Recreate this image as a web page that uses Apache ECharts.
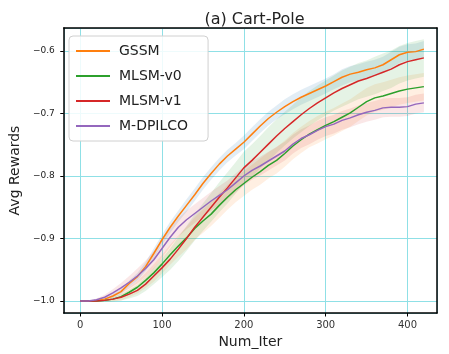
<!DOCTYPE html>
<html>
<head>
<meta charset="utf-8">
<script src="https://cdn.jsdelivr.net/npm/echarts@6/dist/echarts.min.js"></script>
<style>html,body{margin:0;padding:0;background:#fff}#c{width:449px;height:354px}</style>
</head>
<body>
<div id="c"></div>
<script>
const iters = [0,10,20,30,40,50,60,70,80,90,100,110,120,130,140,150,160,170,180,190,200,210,220,230,240,250,260,270,280,290,300,310,320,330,340,350,360,370,380,390,400,410,420];

const gssm = [-1.000,-1.000,-0.999,-0.997,-0.992,-0.985,-0.972,-0.961,-0.945,-0.924,-0.902,-0.882,-0.864,-0.847,-0.830,-0.812,-0.796,-0.781,-0.768,-0.757,-0.746,-0.733,-0.720,-0.708,-0.698,-0.689,-0.681,-0.674,-0.668,-0.662,-0.656,-0.649,-0.642,-0.637,-0.634,-0.630,-0.627,-0.622,-0.614,-0.606,-0.602,-0.601,-0.597];
const mlsmV0 = [-1.000,-1.000,-1.000,-0.999,-0.997,-0.993,-0.986,-0.978,-0.967,-0.955,-0.941,-0.926,-0.912,-0.899,-0.884,-0.872,-0.861,-0.847,-0.834,-0.822,-0.812,-0.802,-0.793,-0.783,-0.775,-0.764,-0.752,-0.742,-0.733,-0.726,-0.719,-0.713,-0.706,-0.699,-0.690,-0.681,-0.675,-0.672,-0.668,-0.664,-0.661,-0.659,-0.657];
const mlsmV1 = [-1.000,-1.000,-1.000,-0.999,-0.997,-0.994,-0.989,-0.983,-0.973,-0.960,-0.947,-0.933,-0.917,-0.900,-0.882,-0.866,-0.850,-0.834,-0.819,-0.803,-0.787,-0.775,-0.762,-0.749,-0.736,-0.724,-0.713,-0.702,-0.692,-0.683,-0.675,-0.667,-0.660,-0.654,-0.648,-0.644,-0.639,-0.634,-0.629,-0.622,-0.617,-0.614,-0.611];
const mdpilco = [-1.000,-1.000,-0.998,-0.994,-0.987,-0.979,-0.970,-0.960,-0.948,-0.934,-0.916,-0.898,-0.882,-0.870,-0.860,-0.850,-0.840,-0.831,-0.822,-0.811,-0.800,-0.791,-0.784,-0.776,-0.768,-0.760,-0.749,-0.740,-0.734,-0.727,-0.721,-0.717,-0.711,-0.707,-0.702,-0.698,-0.695,-0.691,-0.690,-0.690,-0.689,-0.685,-0.683];

const stdGssm = [0,0,0.001,0.002,0.003,0.004,0.005,0.006,0.007,0.008,0.008,0.009,0.009,0.01,0.01,0.01,0.01,0.01,0.01,0.01,0.011,0.011,0.011,0.011,0.011,0.012,0.012,0.012,0.012,0.012,0.012,0.012,0.013,0.013,0.013,0.013,0.013,0.013,0.013,0.013,0.013,0.013,0.013];
const stdV0 = [0,0,0.001,0.002,0.004,0.006,0.008,0.01,0.012,0.014,0.015,0.016,0.017,0.018,0.018,0.019,0.019,0.02,0.02,0.02,0.02,0.02,0.021,0.021,0.021,0.021,0.021,0.021,0.021,0.022,0.022,0.022,0.022,0.022,0.022,0.022,0.022,0.022,0.022,0.022,0.022,0.022,0.022];
const stdV1 = [0,0,0.001,0.002,0.003,0.005,0.007,0.009,0.011,0.013,0.015,0.017,0.019,0.02,0.021,0.022,0.023,0.024,0.025,0.025,0.026,0.026,0.026,0.027,0.027,0.027,0.027,0.028,0.028,0.028,0.028,0.028,0.029,0.029,0.029,0.029,0.03,0.03,0.03,0.03,0.03,0.03,0.03];
const stdMd = [0,0,0.002,0.004,0.006,0.008,0.01,0.012,0.013,0.014,0.015,0.015,0.015,0.015,0.015,0.015,0.015,0.015,0.015,0.015,0.015,0.015,0.015,0.015,0.015,0.015,0.015,0.015,0.015,0.015,0.015,0.015,0.015,0.015,0.015,0.015,0.015,0.015,0.015,0.015,0.015,0.015,0.015];

const names = ['GSSM','MLSM-v0','MLSM-v1','M-DPILCO'];
const means = [gssm, mlsmV0, mlsmV1, mdpilco];
const stds = [stdGssm, stdV0, stdV1, stdMd];
const lineColors = ['#ff7f0e','#2ca02c','#d62728','#9467bd'];
const fillColors = ['rgba(31,119,180,0.13)','rgba(255,127,14,0.12)','rgba(44,160,44,0.12)','rgba(214,39,40,0.11)'];

const FONT = 'DejaVu Sans';
const series = [];
means.forEach((m, i) => {
  const bandData = iters.map((x, k) => [x, m[k] - stds[i][k], m[k] + stds[i][k]]);
  series.push({
    type: 'custom', name: 'band_' + i, silent: true, z: 1, clip: true,
    data: bandData,
    encode: { x: 0, y: [1, 2] },
    renderItem: (params, api) => {
      if (params.dataIndex !== 0) return null;
      const up = [], lo = [];
      for (let k = 0; k < bandData.length; k++) {
        up.push(api.coord([bandData[k][0], bandData[k][2]]));
        lo.push(api.coord([bandData[k][0], bandData[k][1]]));
      }
      const pts = up.concat(lo.reverse());
      const cs = params.coordSys;
      return {
        type: 'polygon',
        shape: { points: pts },
        style: { fill: fillColors[i], stroke: null },
        clipPath: { type: 'rect', shape: { x: cs.x, y: cs.y, width: cs.width, height: cs.height } }
      };
    }
  });
});
means.forEach((m, i) => {
  series.push({
    type: 'line', name: names[i], data: iters.map((x, k) => [x, m[k]]),
    symbol: 'none', showSymbol: false, color: lineColors[i],
    lineStyle: { width: 1.5, color: lineColors[i] }, z: 3
  });
});

const gridLine = { show: true, lineStyle: { color: '#8fe0e6', width: 1 } };
const frameAxis = { show: true, onZero: false, lineStyle: { color: '#000', width: 1.5 } };

const chart = echarts.init(document.getElementById('c'), null, { renderer: 'canvas' });
chart.setOption({
  animation: false,
  backgroundColor: '#fff',
  title: {
    text: '(a) Cart-Pole', left: 249.5, textAlign: 'center', top: 7,
    textStyle: { fontFamily: FONT, fontSize: 16, fontWeight: 'normal', color: '#222' }
  },
  grid: { left: 62, right: 12, top: 28, bottom: 41 },
  legend: {
    data: names.map((n, i) => ({ name: n, icon: 'rect', itemStyle: { color: lineColors[i] } })),
    orient: 'vertical', left: 69, top: 36,
    itemWidth: 34, itemHeight: 2, itemGap: 9,
    padding: [7, 20, 7, 7],
    backgroundColor: 'rgba(255,255,255,0.85)', borderColor: '#d0d0d0', borderWidth: 1, borderRadius: 4,
    textStyle: { fontFamily: FONT, fontSize: 14, color: '#222', lineHeight: 16, padding: [0, 0, 0, 4] }
  },
  xAxis: [{
    type: 'value', min: -20, max: 436, splitNumber: 5,
    name: 'Num_Iter', nameLocation: 'middle', nameGap: 22,
    nameTextStyle: { fontFamily: FONT, fontSize: 14, color: '#222' },
    axisLine: frameAxis,
    axisTick: { show: true, inside: false, length: 3.5, lineStyle: { color: '#000' } },
    axisLabel: { fontFamily: FONT, fontSize: 10, color: '#333', margin: 7, showMinLabel: false, showMaxLabel: false },
    splitLine: gridLine
  }, {
    type: 'value', position: 'top', min: -20, max: 436,
    axisLine: frameAxis, axisTick: { show: false }, axisLabel: { show: false }, splitLine: { show: false }
  }],
  yAxis: [{
    type: 'value', min: -1.0192, max: -0.5632, splitNumber: 5,
    name: 'Avg Rewards', nameLocation: 'middle', nameGap: 41,
    nameTextStyle: { fontFamily: FONT, fontSize: 14, color: '#222' },
    axisLine: frameAxis,
    axisTick: { show: true, inside: false, length: 3.5, lineStyle: { color: '#000' } },
    axisLabel: {
      fontFamily: FONT, fontSize: 9, color: '#222', margin: 9, showMinLabel: false, showMaxLabel: false,
      formatter: v => (v < 0 ? '\u2212' : '') + Math.abs(v).toFixed(1)
    },
    splitLine: gridLine
  }, {
    type: 'value', position: 'right', min: -1.0192, max: -0.5632,
    axisLine: frameAxis, axisTick: { show: false }, axisLabel: { show: false }, splitLine: { show: false }
  }],
  series: series
});
</script>
</body>
</html>
